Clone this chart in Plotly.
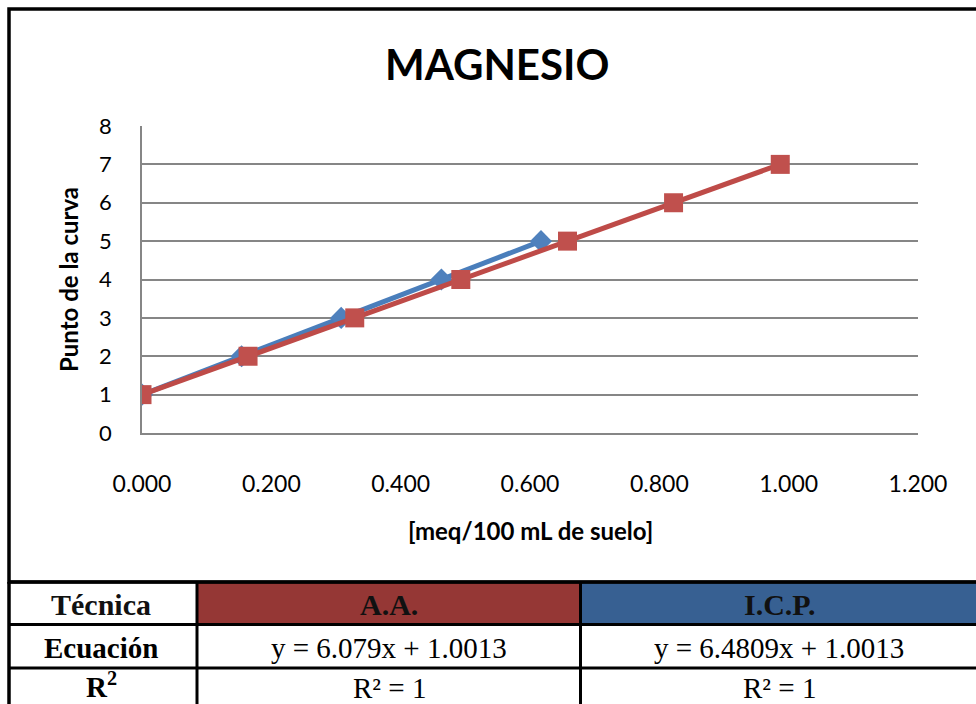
import plotly.graph_objects as go

# ---------------- data ----------------
title_text = "MAGNESIO"
x_title = "[meq/100 mL de suelo]"
y_title = "Punto de la curva"

icp_x = [0.000, 0.154, 0.308, 0.463, 0.617]
icp_y = [1, 2, 3, 4, 5]
aa_x = [0.000, 0.164, 0.329, 0.493, 0.658, 0.822, 0.987]
aa_y = [1, 2, 3, 4, 5, 6, 7]

x_ticks = [0.0, 0.2, 0.4, 0.6, 0.8, 1.0, 1.2]
y_ticks = [0, 1, 2, 3, 4, 5, 6, 7, 8]

table_header = ["Técnica", "A.A.", "I.C.P."]
table_row_labels = ["Ecuación", "R<sup>2</sup>"]
aa_col = ["y = 6.079x + 1.0013", "R² = 1"]
icp_col = ["y = 6.4809x + 1.0013", "R² = 1"]

# ---------------- layout geometry (pixels) ----------------
W, H = 976, 704
L, R, T, B = 142, 918, 126, 433


def px(x):
    return (x - L) / (R - L)


def py(y):
    return (B - y) / (B - T)


BLUE = "#4A7EBB"
RED = "#BE4B48"
GRID = "#868686"

fig = go.Figure()
fig.add_trace(go.Scatter(
    x=icp_x, y=icp_y, mode="lines+markers", name="I.C.P.",
    line=dict(color=BLUE, width=5),
    marker=dict(symbol="diamond", size=17, color="#4F81BD"),
))
fig.add_trace(go.Scatter(
    x=aa_x, y=aa_y, mode="lines+markers", name="A.A.",
    line=dict(color=RED, width=5),
    marker=dict(symbol="square", size=19, color="#C0504D"),
))

shapes = []
annotations = []

# outer chart border
shapes.append(dict(type="rect", xref="paper", yref="paper",
                   x0=px(9), x1=px(990), y0=py(582), y1=py(9),
                   line=dict(color="black", width=3.5), layer="above"))

# table
col_edges = [9, 197, 580.5, 990]
row_edges = [582, 624.5, 668, 720]
shapes.append(dict(type="rect", xref="paper", yref="paper",
                   x0=px(col_edges[1]), x1=px(col_edges[2]),
                   y0=py(row_edges[1]), y1=py(row_edges[0]),
                   fillcolor="#953735", line=dict(width=0), layer="below"))
shapes.append(dict(type="rect", xref="paper", yref="paper",
                   x0=px(col_edges[2]), x1=px(col_edges[3]),
                   y0=py(row_edges[1]), y1=py(row_edges[0]),
                   fillcolor="#376092", line=dict(width=0), layer="below"))
for ry in row_edges[:3]:
    shapes.append(dict(type="line", xref="paper", yref="paper",
                       x0=px(col_edges[0]), x1=px(col_edges[3]),
                       y0=py(ry), y1=py(ry),
                       line=dict(color="black", width=3), layer="above"))
for cx in col_edges[:3]:
    shapes.append(dict(type="line", xref="paper", yref="paper",
                       x0=px(cx), x1=px(cx),
                       y0=py(row_edges[0]), y1=py(row_edges[3]),
                       line=dict(color="black", width=3.5 if cx == 9 else 3),
                       layer="above"))

col_centers = [101, 389, 779]
row_centers = [604, 648, 688]
label_row_centers = [648, 685]
SERIF = "Liberation Serif"

for i, t in enumerate(table_header):
    annotations.append(dict(xref="paper", yref="paper", x=px(col_centers[i]), y=py(row_centers[0]),
                            text=f"<b>{t}</b>", showarrow=False, xanchor="center", yanchor="middle",
                            font=dict(family=SERIF, size=30, color="#111111")))
for j, lab in enumerate(table_row_labels):
    annotations.append(dict(xref="paper", yref="paper", x=px(col_centers[0]), y=py(label_row_centers[j]),
                            text=f"<b>{lab}</b>", showarrow=False, xanchor="center", yanchor="middle",
                            font=dict(family=SERIF, size=29, color="black")))
    annotations.append(dict(xref="paper", yref="paper", x=px(col_centers[1]), y=py(row_centers[j + 1]),
                            text=aa_col[j], showarrow=False, xanchor="center", yanchor="middle",
                            font=dict(family=SERIF, size=29, color="black")))
    annotations.append(dict(xref="paper", yref="paper", x=px(col_centers[2]), y=py(row_centers[j + 1]),
                            text=icp_col[j], showarrow=False, xanchor="center", yanchor="middle",
                            font=dict(family=SERIF, size=29, color="black")))

SANS = "Lato"
# title
annotations.append(dict(xref="paper", yref="paper", x=px(497), y=py(64),
                        text=f"<b>{title_text}</b>", showarrow=False, xanchor="center", yanchor="middle",
                        font=dict(family=SANS, size=42, color="black")))
# axis titles
annotations.append(dict(xref="paper", yref="paper", x=px(530), y=py(530),
                        text=f"<b>{x_title}</b>", showarrow=False, xanchor="center", yanchor="middle",
                        font=dict(family=SANS, size=24, color="black")))
annotations.append(dict(xref="paper", yref="paper", x=px(68), y=py(280),
                        text=f"<b>{y_title}</b>", showarrow=False, xanchor="center", yanchor="middle",
                        textangle=-90, font=dict(family=SANS, size=24, color="black")))

fig.update_layout(
    width=W, height=H,
    margin=dict(l=L, r=W - R, t=T, b=H - B, pad=0),
    paper_bgcolor="white", plot_bgcolor="white",
    showlegend=False,
    shapes=shapes, annotations=annotations,
    font=dict(family=SANS, color="black"),
    xaxis=dict(range=[0, 1.2], tickvals=x_ticks, tickformat=".3f",
               showgrid=False, zeroline=False, showline=True,
               linecolor=GRID, linewidth=1.5, ticks="",
               ticklabelstandoff=30, tickfont=dict(family=SANS, size=23, color="black")),
    yaxis=dict(range=[0, 8], tickvals=y_ticks, showgrid=True, gridcolor=GRID, gridwidth=1.5,
               zeroline=False, showline=True, linecolor=GRID, linewidth=1.5, ticks="",
               ticklabelstandoff=24, tickfont=dict(family=SANS, size=22, color="black")),
)

fig.write_html("out.html")
